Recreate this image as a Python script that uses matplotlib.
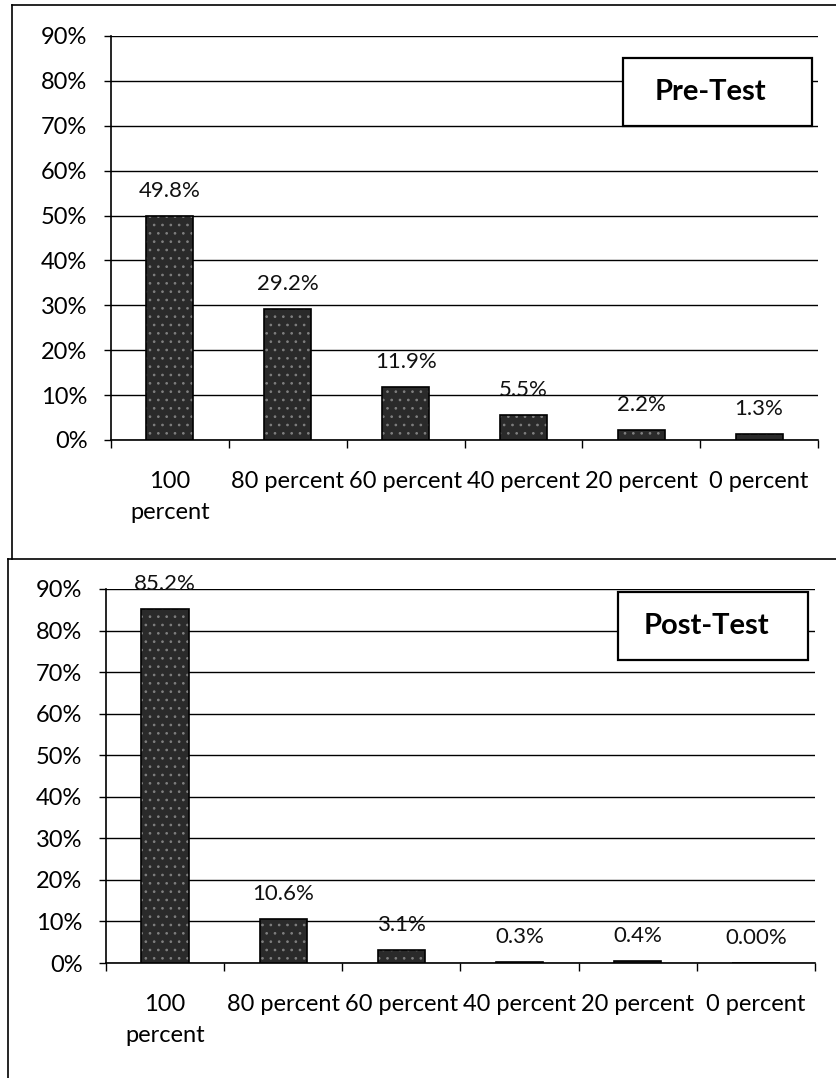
import matplotlib
matplotlib.use("Agg")
import matplotlib.pyplot as plt
from matplotlib.patches import Rectangle
from matplotlib.lines import Line2D
import numpy as np

# Score categories and share of students in each
categories = ["100\npercent", "80 percent", "60 percent", "40 percent", "20 percent", "0 percent"]
pre_values = [49.8, 29.2, 11.9, 5.5, 2.2, 1.3]
pre_labels = ["49.8%", "29.2%", "11.9%", "5.5%", "2.2%", "1.3%"]
post_values = [85.2, 10.6, 3.1, 0.3, 0.4, 0.0]
post_labels = ["85.2%", "10.6%", "3.1%", "0.3%", "0.4%", "0.00%"]
y_ticks = [0, 10, 20, 30, 40, 50, 60, 70, 80, 90]

plt.rcParams['font.family'] = ['Lato', 'DejaVu Sans']
plt.rcParams['hatch.linewidth'] = 0.7

W, H = 836, 1078
fig = plt.figure(figsize=(W / 100, H / 100), dpi=100)
fig.patch.set_facecolor('white')


def draw_panel(rect, values, labels, title, box):
    ax = fig.add_axes(rect)
    x = np.arange(len(categories))
    # speckled fill, then a plain black outline on top
    ax.bar(x, values, width=0.4, color='#2a2a2a', hatch='..',
           edgecolor='#808080', linewidth=0, zorder=3)
    ax.bar(x, values, width=0.4, fill=False, edgecolor='black',
           linewidth=1.2, zorder=4)
    for xi, v, lab in zip(x, values, labels):
        ax.annotate(lab, (xi, v), xytext=(0, 18), textcoords='offset points',
                    ha='center', va='center', fontsize=16, color='#111111')

    ax.set_xlim(-0.5, len(categories) - 0.5)
    ax.set_ylim(0, 90)
    ax.set_yticks(y_ticks)
    ax.set_yticklabels([f"{t}%" for t in y_ticks], fontsize=17)
    ax.yaxis.grid(True, color='black', linewidth=1.0)
    ax.set_axisbelow(True)

    # labels under the category centres, tick marks on the boundaries
    ax.set_xticks(x)
    ax.set_xticklabels(categories, fontsize=17)
    for t in ax.get_xticklabels():
        t.set_linespacing(1.6)
        t.set_verticalalignment('top')
    ax.tick_params(axis='x', which='major', length=0, pad=22)
    ax.set_xticks(np.arange(len(categories) + 1) - 0.5, minor=True)
    ax.tick_params(axis='x', which='minor', length=6, width=1, direction='out')
    ax.tick_params(axis='y', length=5, width=1, direction='out', pad=12)

    for s in ['top', 'right']:
        ax.spines[s].set_visible(False)
    for s in ['left', 'bottom']:
        ax.spines[s].set_color('black')
        ax.spines[s].set_linewidth(1.2)

    # title box in the upper right
    bx0, by0, bx1, by1 = box
    fig.patches.append(Rectangle((bx0 / W, 1 - by1 / H), (bx1 - bx0) / W, (by1 - by0) / H,
                                 transform=fig.transFigure, facecolor='white',
                                 edgecolor='black', linewidth=1.6, zorder=5))
    fig.text((bx0 + bx1) / 2 / W - 0.008, 1 - (by0 + by1) / 2 / H, title,
             ha='center', va='center', fontsize=21, fontweight='bold', zorder=6)
    return ax


draw_panel([111 / W, 1 - 440 / H, (818 - 111) / W, (440 - 36) / H],
           pre_values, pre_labels, "Pre-Test", (623, 58, 812, 126))
draw_panel([106 / W, 1 - 963 / H, (815 - 106) / W, (963 - 589) / H],
           post_values, post_labels, "Post-Test", (618, 592, 808, 660))

# outer frame lines around both panels
frame = [((12, 12), (5, 559)), ((12, 836), (5, 5)), ((8, 836), (559, 559)), ((8, 8), (559, 1078))]
for (xs, ys) in frame:
    fig.lines.append(Line2D([v / W for v in xs], [1 - v / H for v in ys],
                            transform=fig.transFigure, color='black', linewidth=1.2))

fig.savefig("out.png", dpi=100)
